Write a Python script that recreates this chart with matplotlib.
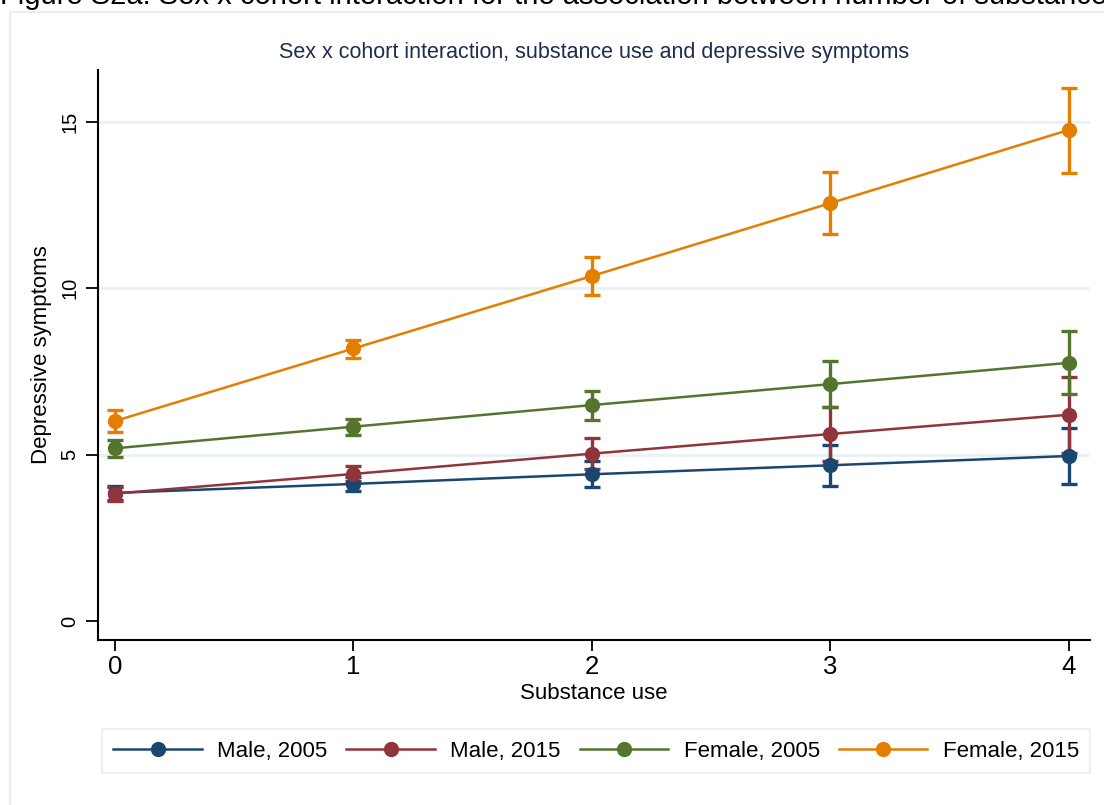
import matplotlib.pyplot as plt
from matplotlib.patches import Rectangle

plt.rcParams['font.family'] = ['Liberation Sans', 'DejaVu Sans']

# predicted depressive symptoms by number of substances used, with 95% CIs
substance = [0, 1, 2, 3, 4]
groups = ["Male, 2005", "Male, 2015", "Female, 2005", "Female, 2015"]
colors = ["#1a476f", "#90353b", "#55752f", "#e37e00"]

male_2005 = [3.85, 4.12, 4.41, 4.68, 4.96]
male_2005_lo = [3.65, 3.90, 4.02, 4.06, 4.13]
male_2005_hi = [4.05, 4.33, 4.80, 5.29, 5.79]

male_2015 = [3.83, 4.42, 5.03, 5.62, 6.20]
male_2015_lo = [3.62, 4.21, 4.56, 4.82, 5.06]
male_2015_hi = [4.04, 4.66, 5.51, 6.42, 7.34]

female_2005 = [5.19, 5.84, 6.49, 7.12, 7.76]
female_2005_lo = [4.93, 5.59, 6.04, 6.43, 6.81]
female_2005_hi = [5.44, 6.08, 6.92, 7.82, 8.73]

female_2015 = [6.01, 8.19, 10.37, 12.56, 14.76]
female_2015_lo = [5.68, 7.91, 9.80, 11.63, 13.47]
female_2015_hi = [6.34, 8.46, 10.95, 13.50, 16.02]

series = [
    (male_2005, male_2005_lo, male_2005_hi),
    (male_2015, male_2015_lo, male_2015_hi),
    (female_2005, female_2005_lo, female_2005_hi),
    (female_2015, female_2015_lo, female_2015_hi),
]

fig = plt.figure(figsize=(11.04, 8.05), dpi=100)

# caption line sits above the graph box and runs past the page edge
fig.text(0.0, 1 - 4 / 805, "Figure S2a. Sex x cohort interaction for the association between number of substance use",
         fontsize=21, va='baseline', ha='left', color='black')

# light frame around the graph region
fig.patches.append(Rectangle((10 / 1104, -0.1), 1.2, 1 - 12 / 805 + 0.1, transform=fig.transFigure,
                             fill=False, edgecolor='#e6eef1', linewidth=1.5))

ax = fig.add_axes([98 / 1104, 1 - 640 / 805, 992 / 1104, 570 / 805])

for yv in [5, 10, 15]:
    ax.axhline(yv, color='#eaf2f3', linewidth=2.2, zorder=0)

handles = []
for (mid, lo, hi), name, c in zip(series, groups, colors):
    yerr = [[m - l for m, l in zip(mid, lo)], [h - m for m, h in zip(mid, hi)]]
    ax.errorbar(substance, mid, yerr=yerr, fmt='none', ecolor=c, elinewidth=2.4,
                capsize=5.5, capthick=2.4, zorder=2)
    h, = ax.plot(substance, mid, color=c, linewidth=1.8, marker='o', markersize=11,
                 markeredgewidth=0, label=name, zorder=3)
    handles.append(h)

ax.set_xlim(-0.071, 4.088)
ax.set_ylim(-0.571, 16.56)
ax.set_xticks(substance)
ax.set_yticks([0, 5, 10, 15])
ax.tick_params(axis='x', labelsize=18.5, length=8, width=1.3, pad=3)
ax.tick_params(axis='y', labelsize=14.5, length=8.5, width=1.3, pad=5, labelrotation=90)
for lab in ax.get_yticklabels():
    lab.set_verticalalignment('center')

for side in ['top', 'right']:
    ax.spines[side].set_visible(False)
for side in ['left', 'bottom']:
    ax.spines[side].set_linewidth(1.5)

ax.set_xlabel("Substance use", fontsize=16, labelpad=3)
ax.set_ylabel("Depressive symptoms", fontsize=16, labelpad=6)
ax.set_title("Sex x cohort interaction, substance use and depressive symptoms",
             fontsize=15.5, color='#1e2d4f', pad=9)

leg = fig.legend(handles=handles, loc='center', bbox_to_anchor=(596 / 1104, 1 - 751 / 805),
                 ncol=4, fontsize=16, handlelength=4.0, handletextpad=0.68, columnspacing=0.85,
                 frameon=True, fancybox=False, borderpad=0.5)
leg.get_frame().set_edgecolor('#e6eef1')
leg.get_frame().set_linewidth(1.5)

fig.savefig("out.png", dpi=100)
